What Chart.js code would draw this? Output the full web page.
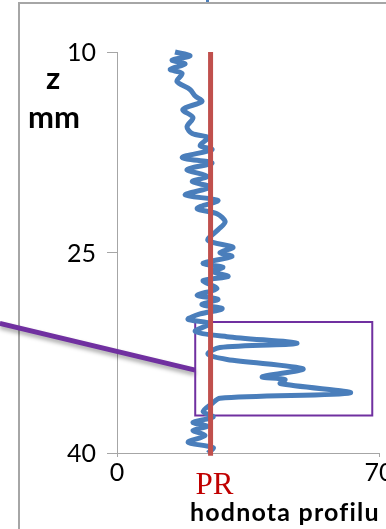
<!DOCTYPE html>
<html>
<head>
<meta charset="utf-8">
<script src="https://cdn.jsdelivr.net/npm/chart.js@4.4.1/dist/chart.umd.min.js"></script>
<style>
    html, body { margin: 0; padding: 0; background: #fff; }
    .wrap { position: relative; width: 386px; height: 529px; }
</style>
</head>
<body>
<div class="wrap"><canvas id="myChart" width="386" height="529"></canvas></div>
<script>
// depth z (mm) and profile value
const depth = [10.0, 10.3, 10.6, 10.9, 11.3, 11.6, 12.2, 12.8, 13.3, 13.7, 14.3, 14.9, 15.6, 16.1, 16.4, 17.0, 17.3, 17.9, 18.3, 18.8,
    19.3, 19.7, 20.1, 20.7, 21.1, 21.7, 22.1, 22.7, 23.3, 24.1, 24.6, 25.0, 25.3, 25.8, 26.1, 26.4, 26.8, 27.1, 27.7, 28.2,
    28.5, 28.9, 29.2, 29.6, 30.0, 30.3, 30.9, 31.3, 31.8, 32.1, 32.6, 33.0, 33.7, 34.3, 34.5, 34.8, 35.5, 35.9, 36.3, 36.9,
    37.3, 37.7, 38.0, 38.3, 38.7, 39.2, 39.6, 40.0];
const profile = [15.5, 19.5, 14.7, 18.2, 14.2, 17.4, 16.0, 19.5, 20.9, 22.7, 17.6, 20.3, 18.7, 20.1, 24.3, 22.2, 25.4, 17.4, 25.4, 18.7,
    24.1, 20.1, 24.9, 18.2, 27.0, 21.4, 26.7, 28.9, 27.0, 24.3, 31.0, 27.5, 30.7, 23.0, 28.3, 25.4, 29.7, 23.0, 26.7, 21.4,
    27.0, 22.7, 28.1, 22.2, 19.0, 24.9, 20.9, 29.4, 48.1, 27.5, 24.3, 29.4, 49.7, 38.8, 44.9, 43.6, 62.3, 27.5, 25.4, 23.0,
    25.7, 20.3, 24.1, 20.3, 23.5, 19.0, 25.7, 24.3];
const prValue = 25;
const yTicks = [10, 25, 40];
const xTicks = [0, 70];

// highlighted zone and callout (data units)
const boxX = [20.9, 68.2];
const boxZ = [30.2, 37.2];
const callout = [{ x: -31.3, y: 30.3 }, { x: 20.9, y: 33.8 }];

const blue = '#4A7EBB';
const red = '#C0504D';
const purple = '#7030A0';

const profilePoints = depth.map((z, i) => ({ x: profile[i], y: z }));
const prPoints = [{ x: prValue, y: 10 }, { x: prValue, y: 40.2 }];
const boxPoints = [
    { x: boxX[0], y: boxZ[0] }, { x: boxX[1], y: boxZ[0] },
    { x: boxX[1], y: boxZ[1] }, { x: boxX[0], y: boxZ[1] },
    { x: boxX[0], y: boxZ[0] }
];

const frame = {
    id: 'frame',
    beforeDraw(chart) {
        const c = chart.ctx;
        c.save();
        c.strokeStyle = '#a6a6a6';
        c.lineWidth = 2;
        c.beginPath();
        c.moveTo(19, 529);
        c.lineTo(19, 3);
        c.lineTo(386, 3);
        c.stroke();
        c.fillStyle = blue;
        c.fillRect(206, 0, 3, 2);
        c.restore();
    },
    beforeDatasetDraw(chart, args) {
        if (args.index === 3) {
            const c = chart.ctx;
            c.save();
            c.shadowColor = 'rgba(0,0,0,0.35)';
            c.shadowBlur = 4;
            c.shadowOffsetY = 3;
        }
    },
    afterDatasetDraw(chart, args) {
        if (args.index === 3) chart.ctx.restore();
    },
    afterDraw(chart) {
        const c = chart.ctx;
        const xs = chart.scales.x;
        const ys = chart.scales.y;
        c.save();
        c.fillStyle = '#000';
        c.font = '25px Lato';
        c.textBaseline = 'middle';
        c.textAlign = 'right';
        yTicks.forEach(v => c.fillText(String(v), 96, ys.getPixelForValue(v) + 1));
        c.textAlign = 'center';
        xTicks.forEach(v => c.fillText(String(v), xs.getPixelForValue(v), 473));

        c.textBaseline = 'alphabetic';
        c.font = 'bold 31px Lato';
        c.fillText('z', 53, 89);
        c.fillText('mm', 54, 128);

        c.fillStyle = '#C00000';
        c.font = '31px "Liberation Serif"';
        c.textBaseline = 'middle';
        c.fillText('PR', xs.getPixelForValue(prValue) + 4, 486);

        c.fillStyle = '#000';
        c.font = 'bold 25px Lato';
        c.textAlign = 'left';
        c.letterSpacing = '1.2px';
        c.fillText('hodnota profilu', 190, 513);
        c.restore();
    }
};

const ctx = document.getElementById('myChart');

new Chart(ctx, {
    type: 'scatter',
    data: {
        datasets: [{
            label: 'PR',
            data: prPoints,
            showLine: true,
            borderColor: red,
            borderWidth: 5,
            pointRadius: 0,
            order: 0,
            clip: false
        },
        {
            label: 'profil',
            data: profilePoints,
            showLine: true,
            borderColor: blue,
            borderWidth: 5,
            pointRadius: 0,
            tension: 0.3,
            order: 1,
            clip: false
        },
        {
            label: 'oblast',
            data: boxPoints,
            showLine: true,
            borderColor: purple,
            borderWidth: 2,
            pointRadius: 0,
            order: 2,
            clip: false
        },
        {
            label: 'callout',
            data: callout,
            showLine: true,
            borderColor: purple,
            borderWidth: 5,
            pointRadius: 0,
            order: 3,
            clip: false
        }]
    },
    options: {
        responsive: false,
        animation: false,
        layout: {
            padding: { left: 107, right: 7, top: 52, bottom: 72 }
        },
        scales: {
            x: {
                min: 0,
                max: 70,
                afterBuildTicks: s => { s.ticks = xTicks.map(v => ({ value: v })); },
                ticks: { display: false },
                grid: { drawOnChartArea: false, tickLength: 4, color: '#a6a6a6' },
                border: { color: '#a6a6a6', width: 1 }
            },
            y: {
                min: 10,
                max: 40,
                reverse: true,
                afterBuildTicks: s => { s.ticks = yTicks.map(v => ({ value: v })); },
                ticks: { display: false },
                grid: { drawOnChartArea: false, tickLength: 10, color: '#a6a6a6' },
                border: { color: '#a6a6a6', width: 1 }
            }
        },
        plugins: {
            legend: { display: false },
            tooltip: { enabled: false }
        }
    },
    plugins: [frame]
});
</script>
</body>
</html>
